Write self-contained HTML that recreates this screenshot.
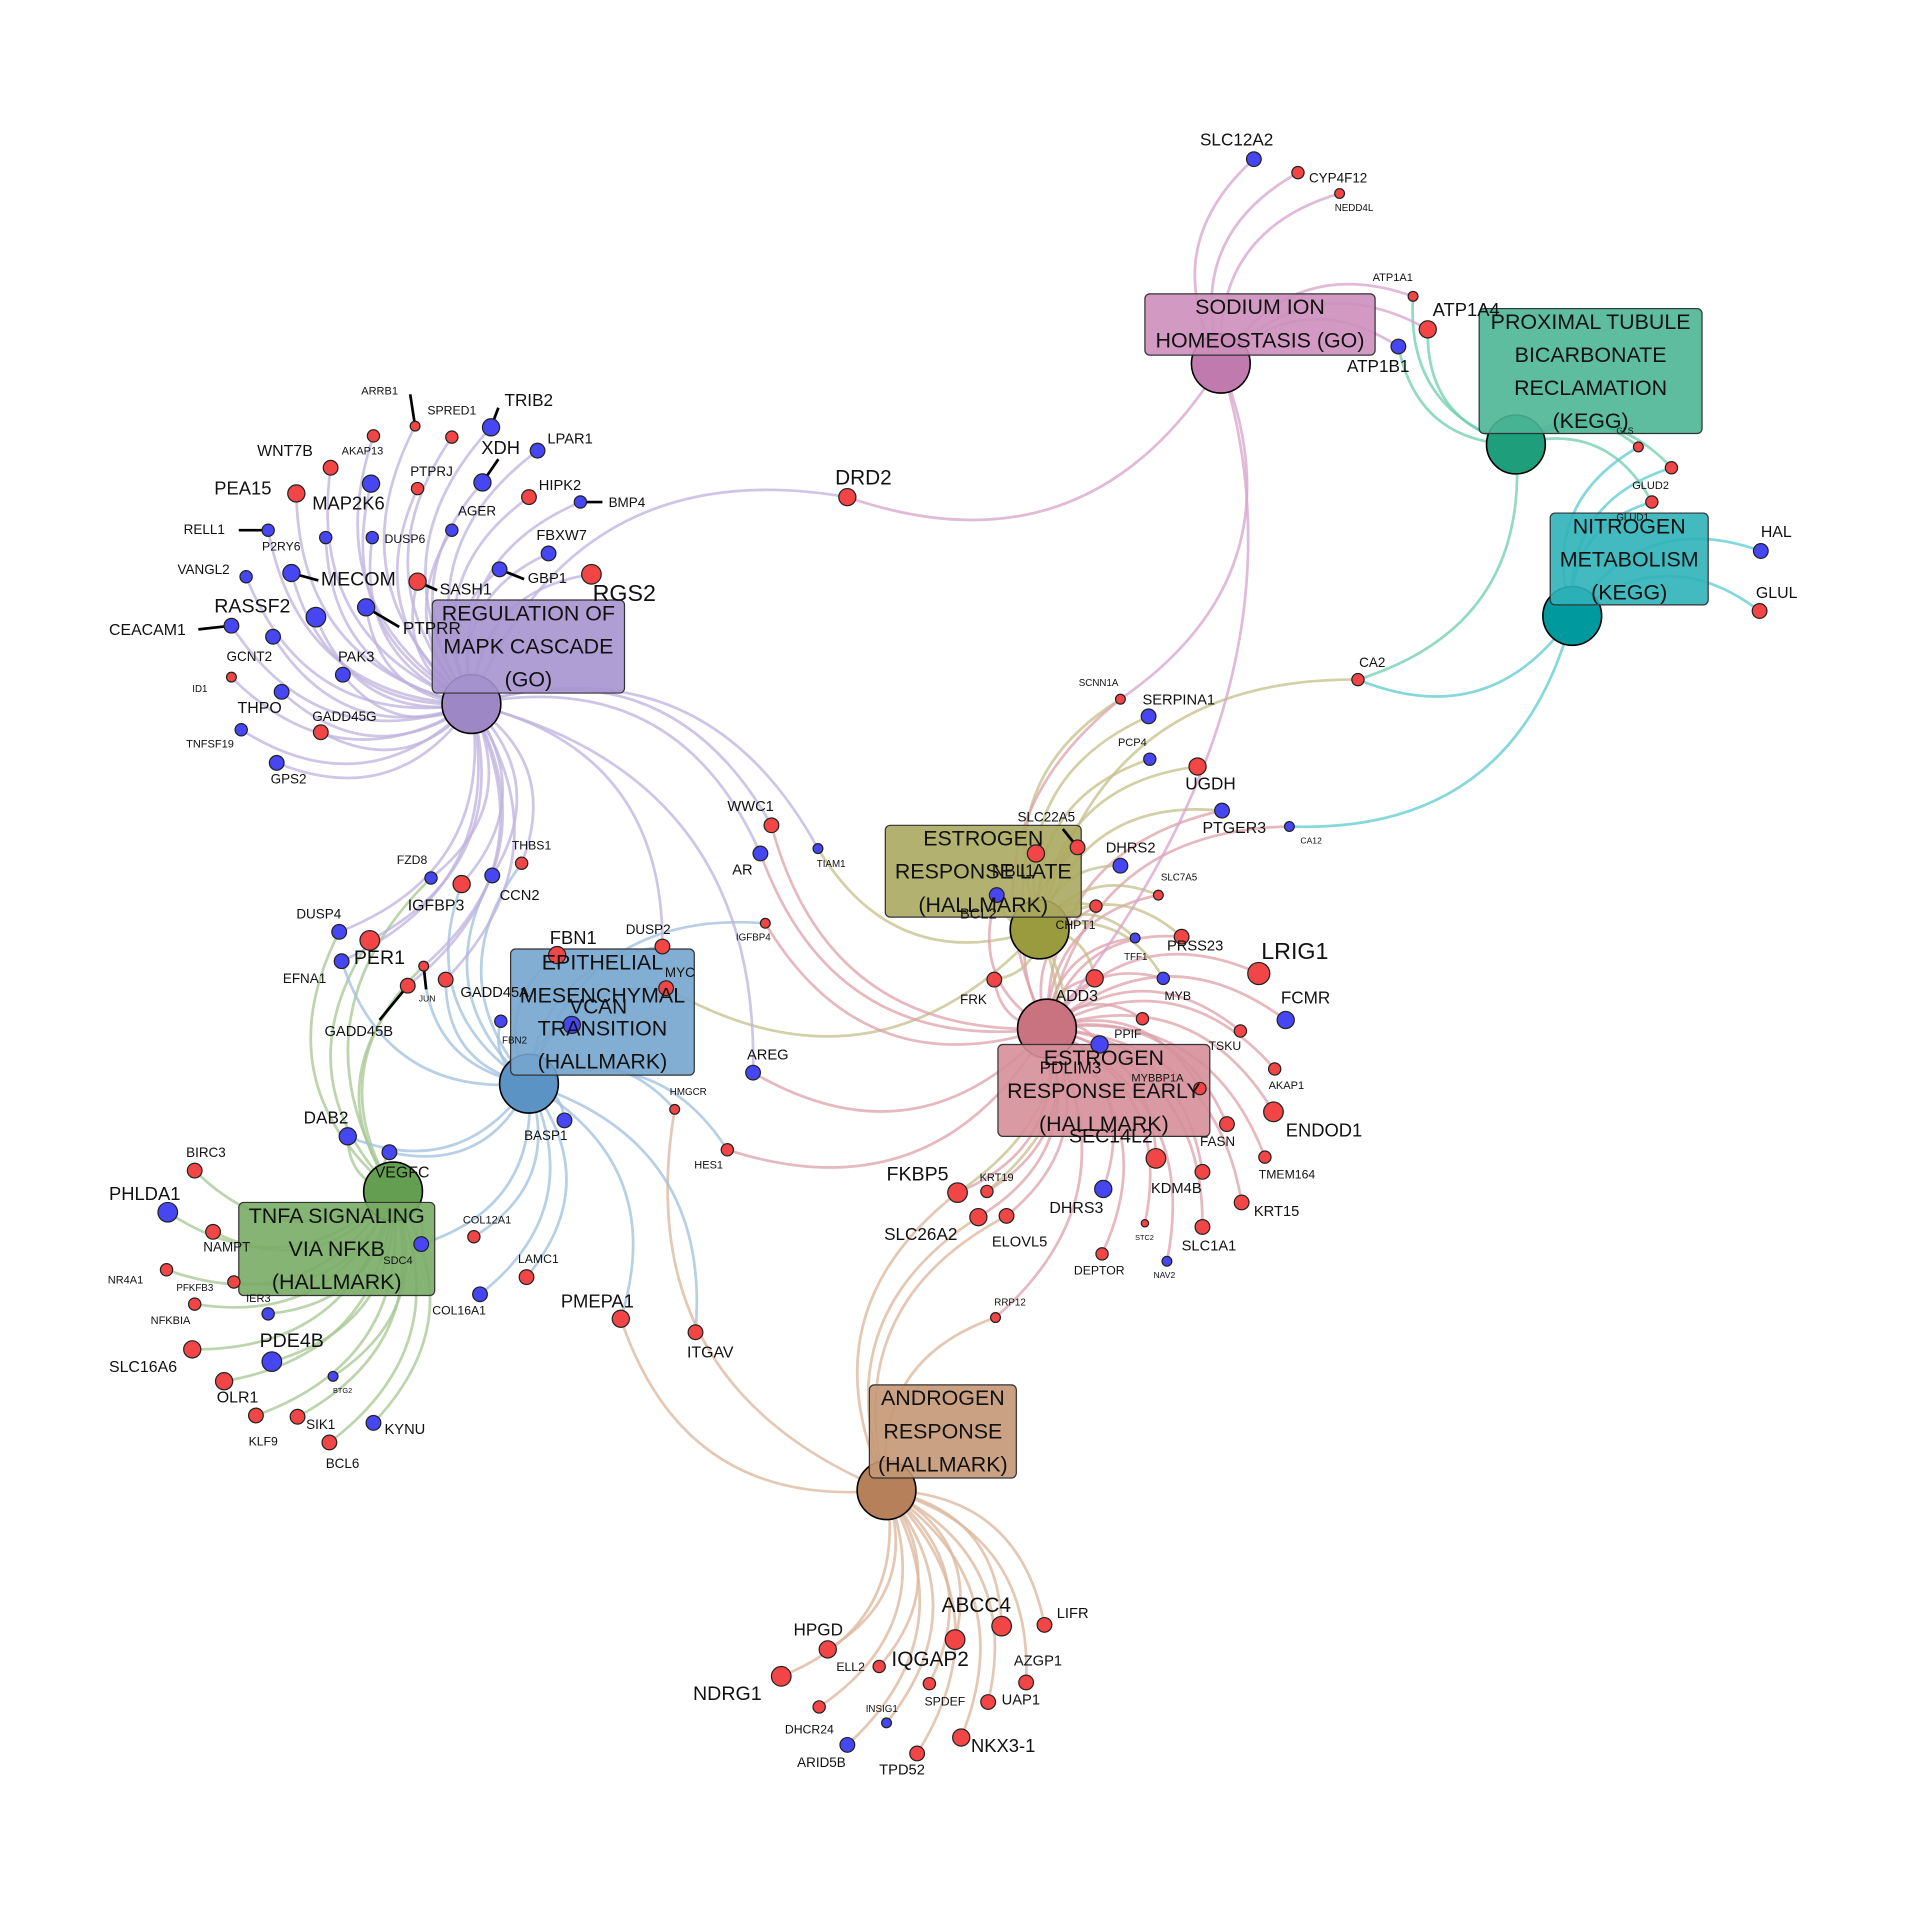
<!DOCTYPE html>
<html><head><meta charset="utf-8">
<style>
html,body{margin:0;padding:0;background:#fff;}
svg{display:block;}
text{font-family:"Liberation Sans",sans-serif;fill:#111;}
</style></head>
<body>
<svg id="g" width="1920" height="1920" viewBox="0 0 1568 1568" xmlns="http://www.w3.org/2000/svg">
<g id="edges" fill="none" stroke-width="2.2" stroke-opacity="0.75"></g>
<g id="hubs"></g>
<g id="boxes"></g>
<g id="lead" stroke="#000" stroke-width="2.2"></g>
<g id="genes" stroke="#222" stroke-width="1"></g>
<g id="boxtext" font-size="17.5" text-anchor="middle" fill="#222"></g>
<g id="labels"></g>
</svg>
<script>
var NS="http://www.w3.org/2000/svg";
function el(p,t,a,txt){var e=document.createElementNS(NS,t);for(var k in a)e.setAttribute(k,a[k]);if(txt!==undefined)e.textContent=txt;document.getElementById(p).appendChild(e);return e;}
var H={
S:{x:997,y:297,c:"#c07aae",e:"#d7a3cb",b:[935,240,188,50,"#cd8fbd"],t:["SODIUM ION","HOMEOSTASIS (GO)"],ty:252},
P:{x:1238,y:363,c:"#1e9e7b",e:"#6fcdb0",b:[1208,252,182,102,"#4db595"],t:["PROXIMAL TUBULE","BICARBONATE","RECLAMATION","(KEGG)"],ty:264},
N:{x:1284,y:503,c:"#009a9e",e:"#5ccbcf",b:[1266,419,129,75,"#2fb2b8"],t:["NITROGEN","METABOLISM","(KEGG)"],ty:431},
M:{x:385,y:575,c:"#9d87c4",e:"#bfb2de",b:[353,490,157,76,"#a593cf"],t:["REGULATION OF","MAPK CASCADE","(GO)"],ty:502},
E:{x:432,y:885,c:"#5b94c4",e:"#9fc0de",b:[417,775,150,103,"#76a5ce"],t:["EPITHELIAL","MESENCHYMAL","TRANSITION","(HALLMARK)"],ty:787},
L:{x:849,y:759,c:"#9a9a3e",e:"#c4bf88",b:[723,674,160,75,"#aba85f"],t:["ESTROGEN","RESPONSE LATE","(HALLMARK)"],ty:686},
R:{x:855,y:840,c:"#c8737f",e:"#dea0aa",b:[815,853,173,75,"#d58f99"],t:["ESTROGEN","RESPONSE EARLY","(HALLMARK)"],ty:865},
T:{x:321,y:973,c:"#649e50",e:"#a6c792",b:[195,982,160,76,"#79ac66"],t:["TNFA SIGNALING","VIA NFKB","(HALLMARK)"],ty:994},
A:{x:724,y:1217,c:"#b5805a",e:"#dbb69b",b:[710,1131,120,76,"#c49876"],t:["ANDROGEN","RESPONSE","(HALLMARK)"],ty:1143}
};
var R_="#f24646",B_="#4646f2";
var G=[
["SLC12A2",1024,130,6,B_,980,115,14,"S"],["CYP4F12",1060,141,5,R_,1069,146,11,"S"],["NEDD4L",1094,158,4,R_,1090,170,8,"S"],
["ATP1A1",1154,242,4,R_,1121,227,9,"SP"],["ATP1A4",1166,269,7,R_,1170,254,15,"SP"],["ATP1B1",1142,283,6,B_,1100,300,14,"SP"],
["DRD2",692,406,7,R_,682,391,17,"MS"],
["GLS",1338,365,4,R_,1320,352,7,"PN"],["GLUD2",1365,382,5,R_,1333,397,9,"PN"],["GLUD1",1349,410,5,R_,1320,423,8,"PN"],
["CA2",1109,555,5,R_,1110,542,11,"PNL"],["HAL",1438,450,6,B_,1438,435,13,"N"],["GLUL",1437,499,6,R_,1434,485,13,"N"],["CA12",1053,675,4,B_,1062,687,7,"NR"],
["ARRB1",339,348,4,R_,295,320,9,"M"],["SPRED1",369,357,5,R_,349,336,10,"M"],["TRIB2",401,349,7,B_,412,328,14,"M"],["LPAR1",439,368,6,B_,447,359,12,"M"],
["AKAP13",305,356,5,R_,279,369,9,"M"],["WNT7B",270,382,6,R_,210,369,13,"M"],["XDH",394,394,7,B_,393,367,15,"M"],["PTPRJ",341,399,5,R_,335,386,11,"M"],
["MAP2K6",303,395,7,B_,255,412,15,"M"],["HIPK2",432,406,6,R_,440,397,12,"M"],["BMP4",474,410,5,B_,497,411,11,"M"],["PEA15",242,403,7,R_,175,400,15,"M"],
["AGER",369,433,5,B_,374,418,11,"M"],["RELL1",219,433,5,B_,150,433,11,"M"],["DUSP6",304,439,5,B_,314,441,10,"M"],["P2RY6",266,439,5,B_,214,447,10,"M"],
["FBXW7",448,452,6,B_,438,438,12,"M"],["VANGL2",201,471,5,B_,145,466,11,"M"],["MECOM",238,468,7,B_,262,474,16,"M"],["SASH1",341,475,7,R_,359,482,13,"M"],
["GBP1",408,465,6,B_,431,473,12,"M"],["RGS2",483,469,8,R_,484,486,19,"M"],["RASSF2",258,504,8,B_,175,496,16,"M"],["PTPRR",299,496,7,B_,329,514,14,"M"],
["CEACAM1",189,511,6,B_,89,515,13,"M"],["GCNT2",223,520,6,B_,185,537,11,"M"],["PAK3",280,551,6,B_,276,537,12,"M"],["ID1",189,553,4,R_,157,563,8,"M"],
["THPO",230,565,6,B_,194,579,13,"M"],["GADD45G",262,598,6,R_,255,586,11,"M"],["TNFSF19",197,596,5,B_,152,608,9,"M"],["GPS2",226,623,6,B_,221,637,11,"M"],
["FZD8",352,717,5,B_,324,703,10,"MT"],["IGFBP3",377,722,7,R_,333,740,13,"ME"],["THBS1",426,705,5,R_,418,691,10,"ME"],["CCN2",402,715,6,B_,408,732,12,"ME"],
["DUSP4",277,761,6,B_,242,747,11,"MT"],["PER1",302,768,8,R_,289,783,16,"MT"],["EFNA1",279,785,6,B_,231,800,11,"ME"],["JUN",346,789,4,R_,342,816,7,"MET"],
["GADD45B",333,805,6,R_,265,843,12,"MT"],["GADD45A",364,800,6,R_,376,811,12,"ME"],["DUSP2",541,773,6,R_,511,760,11,"ME"],["MYC",544,807,6,R_,543,795,11,"EL"],
["WWC1",630,674,6,R_,594,659,12,"MR"],["AR",621,697,6,B_,598,711,12,"MR"],["TIAM1",668,693,4,B_,667,706,8,"ML"],["IGFBP4",625,754,4,R_,601,766,8,"ER"],
["FBN1",455,780,7,R_,449,767,15,"E"],["VCAN",467,837,7,B_,465,823,17,"E"],["FBN2",409,834,5,B_,410,850,8,"E"],["AREG",615,876,6,B_,610,862,12,"MR"],
["HMGCR",551,906,4,R_,547,892,8,"EA"],["HES1",594,939,5,R_,567,952,9,"ER"],["BASP1",461,915,6,B_,428,928,11,"E"],["COL12A1",387,1010,5,R_,378,997,9,"E"],
["LAMC1",430,1043,6,R_,423,1029,10,"E"],["COL16A1",392,1057,6,B_,353,1071,10,"E"],["SDC4",344,1016,6,B_,313,1030,9,"TE"],["ITGAV",568,1088,6,R_,561,1105,13,"E"],
["PMEPA1",507,1077,7,R_,458,1064,15,"EA"],["VEGFC",318,941,6,B_,306,958,13,"ET"],["DAB2",284,928,7,B_,248,914,14,"ET"],
["BIRC3",159,956,6,R_,152,942,11,"T"],["PHLDA1",137,990,8,B_,89,976,15,"T"],["NAMPT",174,1006,6,R_,166,1019,11,"T"],["NR4A1",136,1037,5,R_,88,1046,9,"T"],
["PFKFB3",191,1047,5,R_,144,1052,8,"T"],["IER3",219,1073,5,B_,201,1061,9,"T"],["NFKBIA",159,1065,5,R_,123,1079,9,"T"],["PDE4B",222,1112,8,B_,212,1096,16,"T"],
["SLC16A6",157,1102,7,R_,89,1117,13,"T"],["OLR1",183,1128,7,R_,177,1142,13,"T"],["BTG2",272,1124,4,B_,272,1136,6,"T"],["KLF9",209,1156,6,R_,203,1178,10,"T"],
["SIK1",243,1157,6,R_,250,1164,11,"T"],["KYNU",305,1162,6,B_,314,1168,12,"T"],["BCL6",269,1178,6,R_,266,1196,11,"T"],
["SCNN1A",915,571,4,R_,881,558,8,"SLR"],["SERPINA1",938,585,6,B_,933,572,12,"L"],["PCP4",939,620,5,B_,913,607,9,"L"],["UGDH",978,626,7,R_,968,641,14,"L"],
["PTGER3",998,662,6,B_,982,677,13,"LR"],["SLC22A5",880,692,6,R_,831,668,11,"LR"],["NBL1",846,697,7,R_,810,712,14,"L"],["DHRS2",915,707,6,B_,903,693,12,"L"],
["BCL2",814,731,6,B_,784,747,12,"LR"],["SLC7A5",946,731,4,R_,948,717,8,"LR"],["CHPT1",895,740,5,R_,862,756,10,"LR"],["TFF1",927,766,4,B_,918,782,8,"LR"],
["PRSS23",965,765,6,R_,953,773,12,"LR"],["LRIG1",1028,795,9,R_,1030,778,19,"R"],["FRK",812,800,6,R_,784,817,11,"LR"],["ADD3",894,799,7,R_,862,814,13,"LR"],
["MYB",950,799,5,B_,951,814,10,"LR"],["FCMR",1050,833,7,B_,1046,816,14,"R"],["PPIF",933,832,5,R_,910,845,10,"R"],["TSKU",1013,842,5,R_,987,855,10,"R"],
["PDLIM3",898,853,7,B_,849,873,14,"R"],["MYBBP1A",980,889,5,R_,924,881,9,"R"],["AKAP1",1041,873,5,R_,1036,887,9,"R"],["ENDOD1",1040,908,8,R_,1050,924,15,"R"],
["FASN",1002,918,6,R_,980,933,11,"R"],["SEC14L2",944,946,8,R_,873,929,16,"R"],["TMEM164",1033,945,5,R_,1028,960,10,"R"],["KDM4B",982,957,6,R_,940,971,12,"R"],
["FKBP5",782,974,8,R_,724,960,16,"RLA"],["KRT19",806,973,5,R_,800,962,9,"RL"],["DHRS3",901,971,7,B_,857,987,13,"R"],["KRT15",1014,982,6,R_,1024,990,12,"R"],
["SLC26A2",799,994,7,R_,722,1009,14,"RA"],["ELOVL5",822,993,6,R_,810,1015,12,"RA"],["STC2",935,999,3,R_,927,1011,6,"R"],["SLC1A1",982,1002,6,R_,965,1018,12,"R"],
["DEPTOR",900,1024,5,R_,877,1038,10,"R"],["NAV2",953,1030,4,B_,942,1042,7,"R"],["RRP12",813,1076,4,R_,812,1064,8,"RA"],
["HPGD",676,1347,7,R_,648,1332,14,"A"],["ABCC4",818,1328,8,R_,769,1312,17,"A"],["LIFR",853,1327,6,R_,863,1318,12,"A"],["ELL2",718,1361,5,R_,683,1362,10,"A"],
["IQGAP2",780,1339,8,R_,728,1356,17,"A"],["NDRG1",638,1369,8,R_,566,1384,16,"A"],["AZGP1",838,1374,6,R_,828,1357,12,"A"],["SPDEF",759,1375,5,R_,755,1390,10,"A"],
["UAP1",807,1390,6,R_,818,1389,12,"A"],["INSIG1",724,1407,4,B_,707,1396,8,"A"],["DHCR24",669,1394,5,R_,641,1413,10,"A"],["NKX3-1",785,1419,7,R_,793,1427,15,"A"],
["ARID5B",692,1425,6,B_,651,1440,11,"A"],["TPD52",749,1432,6,R_,718,1446,12,"A"]
];
G.forEach(function(g){
  g[8].split("").forEach(function(h){
    var c=H[h],dx=g[1]-c.x,dy=g[2]-c.y,mx=(g[1]+c.x)/2,my=(g[2]+c.y)/2,k=0.4;
    var cx=mx+k*dy,cy=my-k*dx;
    el("edges","path",{d:"M"+c.x+","+c.y+" Q"+cx.toFixed(1)+","+cy.toFixed(1)+" "+g[1]+","+g[2],stroke:c.e});
  });
});
el("edges","path",{d:"M997,297 Q1080,560 855,840",stroke:H.S.e});
for(var h in H){var c=H[h];
  el("hubs","circle",{cx:c.x,cy:c.y,r:24,fill:c.c,stroke:"#000","stroke-width":1.3});
  var b=c.b;el("boxes","rect",{x:b[0],y:b[1],width:b[2],height:b[3],rx:4,fill:b[4],"fill-opacity":0.9,stroke:"#333","stroke-width":1});
  c.t.forEach(function(t,i){el("boxtext","text",{x:b[0]+b[2]/2,y:c.ty+i*27,"dominant-baseline":"middle"},t);});
}
[[339,348,335,322],[401,349,407,333],[394,394,407,375],[474,410,492,410],[219,433,195,433],[238,468,260,474],[341,475,357,482],[408,465,428,473],[299,496,326,512],[189,511,162,514],[346,789,348,808],[333,805,310,833],[880,692,868,677]].forEach(function(l){
  el("lead","line",{x1:l[0],y1:l[1],x2:l[2],y2:l[3]});
});
G.forEach(function(g){
  el("genes","circle",{cx:g[1],cy:g[2],r:g[3],fill:g[4]});
  el("labels","text",{x:g[5],y:g[6],"font-size":g[7],"dominant-baseline":"middle"},g[0]);
});
</script>
</body></html>
